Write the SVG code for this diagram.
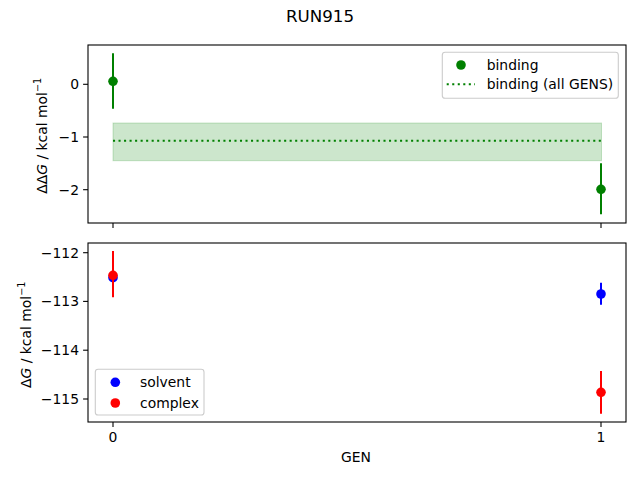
<svg xmlns="http://www.w3.org/2000/svg" width="640" height="480" viewBox="0 0 640 480">
<style>
text{font-family:"DejaVu Sans","Liberation Sans",sans-serif;font-size:13.9px;fill:#000}
.tl{text-anchor:end}
.tc{text-anchor:middle}
.spine{fill:none;stroke:#000;stroke-width:1.1}
.tick{stroke:#000;stroke-width:1.1}
.eg{stroke:#008000;stroke-width:2}
.eb{stroke:#0000ff;stroke-width:2}
.er{stroke:#ff0000;stroke-width:2}
.leg{fill:#fff;fill-opacity:0.8;stroke:#cccccc;stroke-width:1.1}
.it{font-style:italic}
</style>
<rect width="640" height="480" fill="#fff"/>
<text x="320" y="22" class="tc" style="font-size:16.7px">RUN915</text>

<g id="top-axes">
<rect x="113" y="123" width="488.5" height="37.7" fill="#008000" fill-opacity="0.2" stroke="#008000" stroke-opacity="0.2" stroke-width="1"/>
<line x1="113" y1="140.7" x2="601.5" y2="140.7" stroke="#008000" stroke-width="2" stroke-dasharray="2.08,3.44"/>
<line class="eg" x1="113" y1="53.3" x2="113" y2="108.7"/>
<circle cx="113" cy="81.3" r="4.8" fill="#008000"/>
<line class="eg" x1="601" y1="163.3" x2="601" y2="214.3"/>
<circle cx="601" cy="189.3" r="4.8" fill="#008000"/>
<rect class="spine" x="88" y="45" width="538" height="178"/>
<line class="tick" x1="83.1" y1="84.3" x2="88" y2="84.3"/>
<line class="tick" x1="83.1" y1="137" x2="88" y2="137"/>
<line class="tick" x1="83.1" y1="189.7" x2="88" y2="189.7"/>
<text x="79" y="89.3" class="tl">0</text>
<text x="79" y="142" class="tl">−1</text>
<text x="79" y="194.7" class="tl">−2</text>
<line class="tick" x1="113" y1="223" x2="113" y2="227.9"/>
<line class="tick" x1="601" y1="223" x2="601" y2="227.9"/>
<text transform="translate(46.5,135.8) rotate(-90)" class="tc">ΔΔ<tspan class="it">G</tspan> / kcal mol<tspan dy="-6" style="font-size:9.7px">−1</tspan></text>
<g id="top-legend">
<rect class="leg" x="442.3" y="52.3" width="176" height="46" rx="2.8"/>
<circle cx="461" cy="65" r="4.8" fill="#008000"/>
<line x1="446.7" y1="84.3" x2="475" y2="84.3" stroke="#008000" stroke-width="2" stroke-dasharray="2.08,3.44"/>
<text x="486.7" y="70">binding</text>
<text x="486.7" y="89.3">binding (all GENS)</text>
</g>
</g>

<g id="bottom-axes">
<line class="eb" x1="113" y1="272" x2="113" y2="283"/>
<circle cx="113" cy="277.7" r="4.8" fill="#0000ff"/>
<line class="er" x1="113" y1="251" x2="113" y2="297.3"/>
<circle cx="113" cy="275.3" r="4.8" fill="#ff0000"/>
<line class="eb" x1="601" y1="282.7" x2="601" y2="304.7"/>
<circle cx="601" cy="294" r="4.8" fill="#0000ff"/>
<line class="er" x1="601" y1="371" x2="601" y2="413.7"/>
<circle cx="601" cy="392.3" r="4.8" fill="#ff0000"/>
<rect class="spine" x="88" y="243" width="538" height="179"/>
<line class="tick" x1="83.1" y1="252.7" x2="88" y2="252.7"/>
<line class="tick" x1="83.1" y1="301.4" x2="88" y2="301.4"/>
<line class="tick" x1="83.1" y1="350.2" x2="88" y2="350.2"/>
<line class="tick" x1="83.1" y1="399" x2="88" y2="399"/>
<text x="79" y="257.7" class="tl">−112</text>
<text x="79" y="306.4" class="tl">−113</text>
<text x="79" y="355.2" class="tl">−114</text>
<text x="79" y="404" class="tl">−115</text>
<line class="tick" x1="113" y1="422" x2="113" y2="426.9"/>
<line class="tick" x1="601" y1="422" x2="601" y2="426.9"/>
<text x="113" y="441.5" class="tc">0</text>
<text x="601" y="441.5" class="tc">1</text>
<text x="356" y="462.3" class="tc">GEN</text>
<text transform="translate(30.5,334.8) rotate(-90)" class="tc">Δ<tspan class="it">G</tspan> / kcal mol<tspan dy="-6" style="font-size:9.7px">−1</tspan></text>
<g id="bottom-legend">
<rect class="leg" x="95.3" y="369.3" width="108.7" height="45.7" rx="2.8"/>
<circle cx="115.3" cy="382.3" r="4.8" fill="#0000ff"/>
<circle cx="115.3" cy="403" r="4.8" fill="#ff0000"/>
<text x="140" y="387.3">solvent</text>
<text x="140" y="408">complex</text>
</g>
</g>
</svg>
